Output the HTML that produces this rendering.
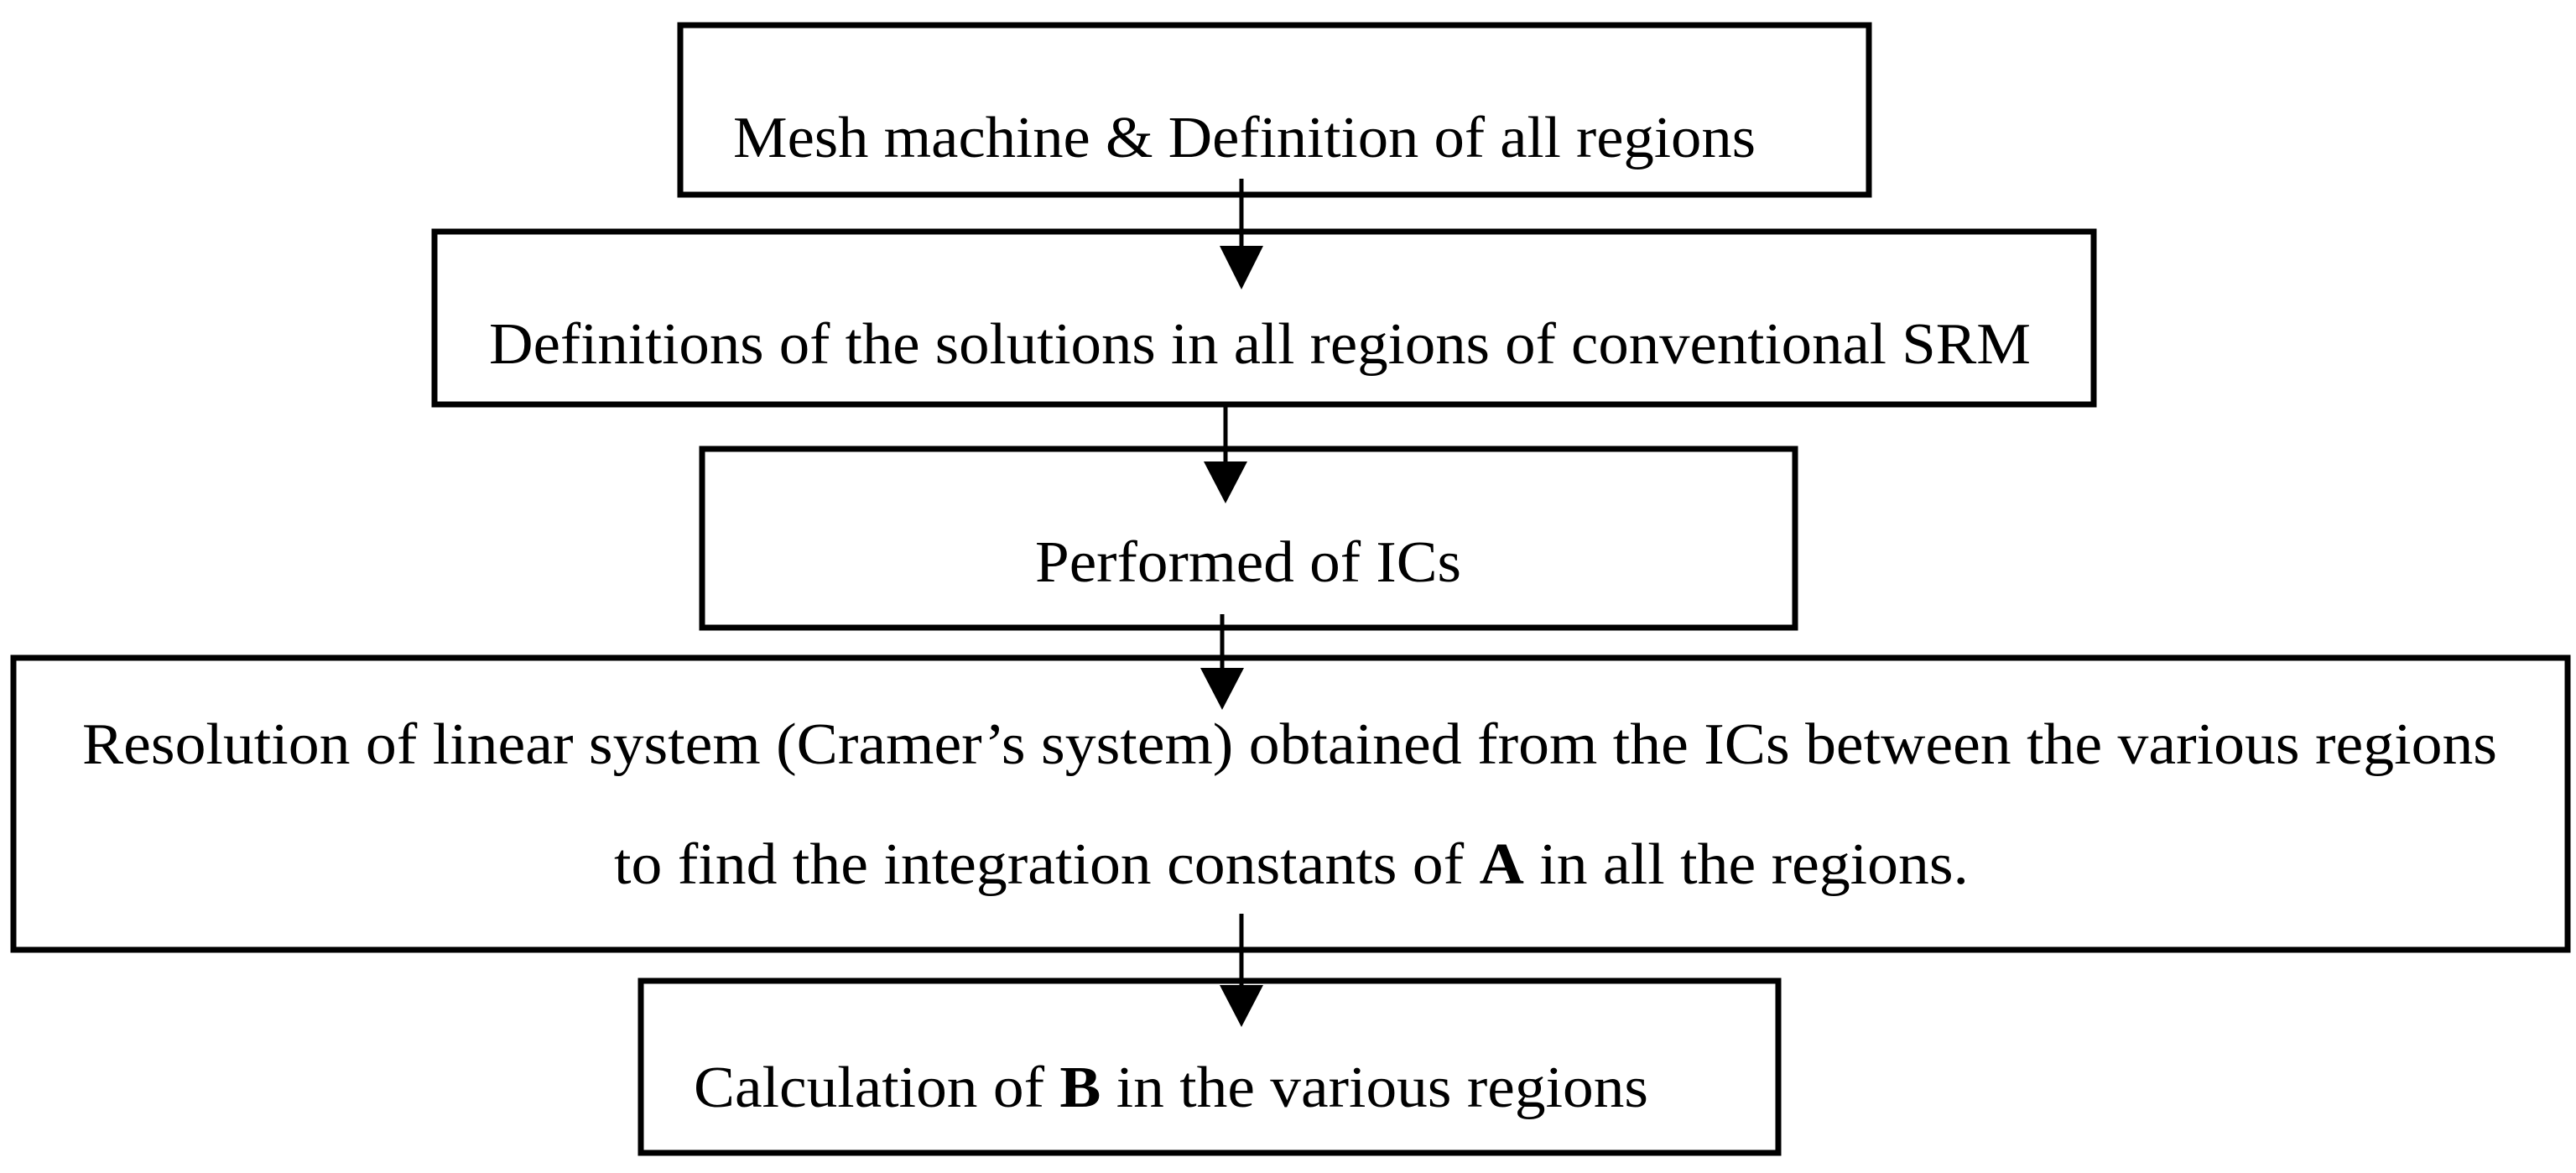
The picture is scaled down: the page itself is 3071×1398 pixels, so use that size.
<!DOCTYPE html>
<html><head><meta charset="utf-8"><style>html,body{margin:0;padding:0;background:#fff;}svg{display:block;}</style></head>
<body>
<svg width="3071" height="1398" viewBox="0 0 3071 1398" xmlns="http://www.w3.org/2000/svg">
<g fill="none" stroke="#000" stroke-width="7">
<rect x="811" y="30" width="1417" height="202"/>
<rect x="518" y="276" width="1978" height="206"/>
<rect x="837" y="535" width="1303" height="213"/>
<rect x="16" y="784" width="3045" height="348"/>
<rect x="764" y="1169" width="1356" height="205"/>
</g>
<g stroke="#000" stroke-width="5">
<line x1="1480" y1="213" x2="1480" y2="300"/>
<line x1="1461" y1="482" x2="1461" y2="560"/>
<line x1="1457" y1="732" x2="1457" y2="805"/>
<line x1="1480" y1="1089" x2="1480" y2="1185"/>
</g>
<g fill="#000">
<polygon points="1454,293 1506,293 1480,345"/>
<polygon points="1435,550 1487,550 1461,600"/>
<polygon points="1431,796 1483,796 1457,846"/>
<polygon points="1454,1174 1506,1174 1480,1224"/>
</g>
<g font-family="Liberation Serif, serif" font-size="70" fill="#000">
<text x="874" y="187" textLength="1219" lengthAdjust="spacingAndGlyphs">Mesh machine &amp; Definition of all regions</text>
<text x="583" y="433" textLength="1838" lengthAdjust="spacingAndGlyphs">Definitions of the solutions in all regions of conventional SRM</text>
<text x="1234" y="693" textLength="508" lengthAdjust="spacingAndGlyphs">Performed of ICs</text>
<text x="98" y="910" textLength="2879" lengthAdjust="spacingAndGlyphs">Resolution of linear system (Cramer’s system) obtained from the ICs between the various regions</text>
<text x="732" y="1053" textLength="1615" lengthAdjust="spacingAndGlyphs">to find the integration constants of <tspan font-weight="bold">A</tspan> in all the regions.</text>
<text x="827" y="1319" textLength="1138" lengthAdjust="spacingAndGlyphs">Calculation of <tspan font-weight="bold">B</tspan> in the various regions</text>
</g>
</svg>
</body></html>
